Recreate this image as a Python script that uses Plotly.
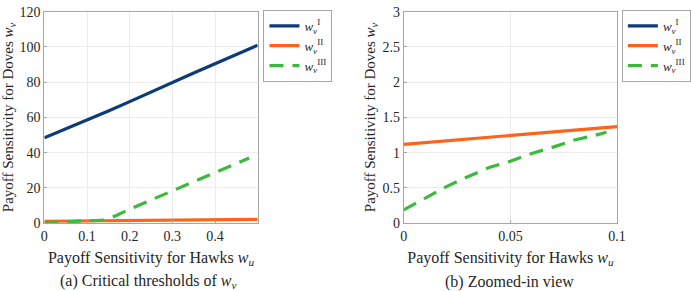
import plotly.graph_objects as go

# ---- data: panel (a) ----
wu_a = [0, 0.05, 0.1, 0.15, 0.2, 0.25, 0.3, 0.35, 0.4, 0.45, 0.5]
wI_a = [48.5, 53.5, 58.5, 63.7, 69.0, 74.5, 80.0, 85.2, 90.5, 95.8, 101.0]
wII_a = [1.12, 1.25, 1.37, 1.48, 1.6, 1.7, 1.8, 1.9, 2.0, 2.1, 2.2]
wu_a3 = [0, 0.02, 0.04, 0.06, 0.08, 0.1, 0.12, 0.14, 0.15, 0.16, 0.17, 0.2, 0.25, 0.3, 0.35, 0.4, 0.45, 0.48]
wIII_a = [0.19, 0.52, 0.79, 0.99, 1.18, 1.32, 1.5, 1.8, 2.5, 3.5, 4.5, 8.0, 13.2, 18.2, 23.5, 28.5, 33.5, 37.0]

# ---- data: panel (b) ----
wu_b = [0, 0.01, 0.02, 0.03, 0.04, 0.05, 0.06, 0.07, 0.08, 0.09, 0.1]
wI_b = [48.5, 49.5, 50.5, 51.5, 52.5, 53.5, 54.5, 55.5, 56.5, 57.5, 58.5]
wII_b = [1.12, 1.145, 1.17, 1.195, 1.22, 1.245, 1.27, 1.295, 1.32, 1.345, 1.37]
wu_b3 = [0, 0.01, 0.02, 0.03, 0.04, 0.05, 0.06, 0.07, 0.08, 0.09, 0.095]
wIII_b = [0.19, 0.36, 0.52, 0.66, 0.79, 0.88, 0.99, 1.08, 1.18, 1.25, 1.29]

ticks_a_x = [0, 0.1, 0.2, 0.3, 0.4]
ticks_a_y = [0, 20, 40, 60, 80, 100, 120]
ticks_b_x = [0, 0.05, 0.1]
ticks_b_y = [0, 0.5, 1, 1.5, 2, 2.5, 3]
tick_b_y_text = ["0", "0.5", "1", "1.5", "2", "2.5", "3"]

names = ["<i>w</i><sub><i>v</i></sub><sup>I</sup>",
         "<i>w</i><sub><i>v</i></sub><sup>II</sup>",
         "<i>w</i><sub><i>v</i></sub><sup>III</sup>"]
colors = ["#0d3b78", "#ff6319", "#3dba3d"]
FONT = "'Liberation Serif', 'Times New Roman', serif"
W, H = 691, 291

fig = go.Figure()
# panel a
fig.add_trace(go.Scatter(x=wu_a, y=wI_a, mode="lines", name=names[0], line=dict(color=colors[0], width=3.2), xaxis="x", yaxis="y", legend="legend"))
fig.add_trace(go.Scatter(x=wu_a, y=wII_a, mode="lines", name=names[1], line=dict(color=colors[1], width=3.2), xaxis="x", yaxis="y", legend="legend"))
fig.add_trace(go.Scatter(x=wu_a3, y=wIII_a, mode="lines", name=names[2], line=dict(color=colors[2], width=3.2, dash="14px,9px"), xaxis="x", yaxis="y", legend="legend"))
# panel b
fig.add_trace(go.Scatter(x=wu_b, y=wI_b, mode="lines", name=names[0], line=dict(color=colors[0], width=3.2), xaxis="x2", yaxis="y2", legend="legend2"))
fig.add_trace(go.Scatter(x=wu_b, y=wII_b, mode="lines", name=names[1], line=dict(color=colors[1], width=3.2), xaxis="x2", yaxis="y2", legend="legend2"))
fig.add_trace(go.Scatter(x=wu_b3, y=wIII_b, mode="lines", name=names[2], line=dict(color=colors[2], width=3.2, dash="14px,9px"), xaxis="x2", yaxis="y2", legend="legend2"))

ydom = [(291 - 228) / H, (291 - 5) / H]
axis_common = dict(showline=True, linecolor="#a6a6a6", linewidth=1, mirror=True,
                   showgrid=True, gridcolor="#ececec", gridwidth=1, zeroline=False,
                   ticks="inside", ticklen=3, tickcolor="#a6a6a6",
                   ticklabeloverflow="allow",
                   tickfont=dict(family=FONT, size=14, color="#262626"))
xfont = dict(family=FONT, size=16, color="#262626")
yfont = dict(family=FONT, size=15, color="#262626")

xt = "Payoff Sensitivity for Hawks <i>w</i><sub><i>u</i></sub>"
yt = "Payoff Sensitivity for Doves <i>w</i><sub><i>v</i></sub>"

fig.update_layout(
    width=W, height=H, margin=dict(l=0, r=0, t=0, b=0),
    paper_bgcolor="white", plot_bgcolor="white",
    font=dict(family=FONT, color="#262626"),
    xaxis=dict(domain=[42 / W, 264 / W], range=[0, 0.5], tickvals=ticks_a_x, anchor="y",
               title=dict(text=xt, standoff=8, font=xfont), **axis_common),
    yaxis=dict(domain=ydom, range=[0, 120], tickvals=ticks_a_y, anchor="x",
               title=dict(text=yt, standoff=3, font=yfont), **axis_common),
    xaxis2=dict(domain=[416 / W, 638 / W], range=[0, 0.1], tickvals=ticks_b_x, anchor="y2",
                title=dict(text=xt, standoff=8, font=xfont), **axis_common),
    yaxis2=dict(domain=ydom, range=[0, 3], tickvals=ticks_b_y, ticktext=tick_b_y_text, anchor="x2",
                title=dict(text=yt, standoff=3, font=yfont), **axis_common),
    legend=dict(x=270 / W, y=1 - 3 / H, xanchor="left", yanchor="top",
                bordercolor="#a6a6a6", borderwidth=1, bgcolor="white",
                font=dict(family=FONT, size=13, color="#262626"),
                tracegroupgap=0, itemwidth=30),
    legend2=dict(x=643 / W, y=1 - 3 / H, xanchor="left", yanchor="top",
                 bordercolor="#a6a6a6", borderwidth=1, bgcolor="white",
                 font=dict(family=FONT, size=13, color="#262626"),
                 tracegroupgap=0, itemwidth=30),
    annotations=[
        dict(text="(a) Critical thresholds of <i>w</i><sub><i>v</i></sub>", x=150 / W, y=0,
             xref="paper", yref="paper", showarrow=False, xanchor="center", yanchor="bottom",
             yshift=-10,
             font=dict(family=FONT, size=16, color="#262626")),
        dict(text="(b) Zoomed-in view", x=526 / W, y=0,
             xref="paper", yref="paper", showarrow=False, xanchor="center", yanchor="bottom",
             yshift=-10,
             font=dict(family=FONT, size=16, color="#262626")),
    ],
)

fig.write_html("out.html")
